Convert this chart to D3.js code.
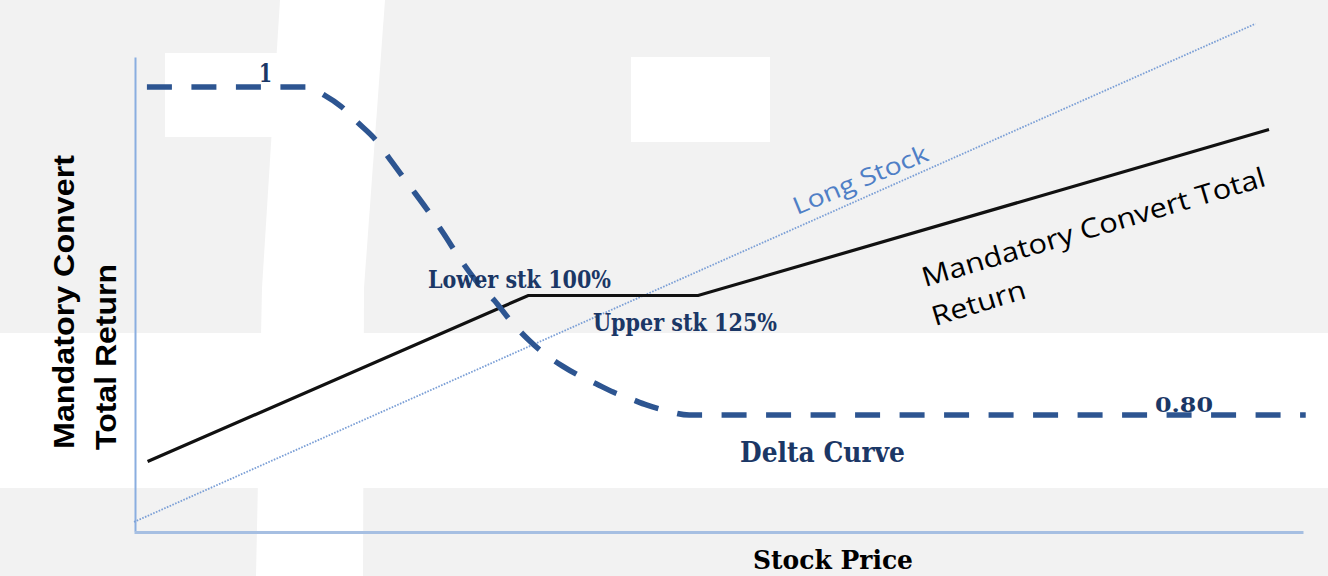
<!DOCTYPE html>
<html>
<head>
<meta charset="utf-8">
<script src="https://cdn.jsdelivr.net/npm/d3@7/dist/d3.min.js"></script>
<style>
  html, body { margin: 0; padding: 0; background: #f2f2f2; }
  svg { display: block; }
</style>
</head>
<body>
<svg id="chart" width="1328" height="576"></svg>
<script>
// ---- data ----
const longStockX = [42, 207];
const longStockY = [42, 207];
const convertX = [44, 100, 125, 209];
const convertY = [62, 117, 117, 172];
const deltaX = [43.9, 67.5, 70, 72.5, 75, 77.5, 80, 82.5, 85, 87.5, 90, 92.5, 95, 97.5, 100, 102.5, 105, 107.5, 110, 112.5, 115, 117.5, 120, 123.7, 214.4];
const deltaY = [1.0, 1.0, 0.995, 0.988, 0.978, 0.968, 0.954, 0.940, 0.926, 0.911, 0.895, 0.881, 0.870, 0.857, 0.846, 0.837, 0.830, 0.824, 0.819, 0.814, 0.810, 0.806, 0.803, 0.800, 0.800];
const deltaLabels = ["1", "0.80"];
const strikeLabels = ["Lower stk 100%", "Upper stk 125%"];
const seriesLabels = ["Long Stock", "Mandatory Convert Total", "Return", "Delta Curve"];
const axisTitles = { x: "Stock Price", y: ["Mandatory Convert", "Total Return"] };

const svg = d3.select("#chart");
const W = 1328, H = 576;

// ---- background (decorative blocks) ----
const bg = svg.append("g");
bg.append("rect").attr("x", 0).attr("y", 0).attr("width", W).attr("height", H).attr("fill", "#f2f2f2");
bg.append("rect").attr("x", 0).attr("y", 333).attr("width", W).attr("height", 155).attr("fill", "#ffffff");
bg.append("polygon").attr("points", "280,0 385,0 364,288 363,576 256,576 262,288").attr("fill", "#ffffff");
bg.append("rect").attr("x", 165).attr("y", 53).attr("width", 142).attr("height", 84).attr("fill", "#ffffff");
bg.append("rect").attr("x", 631).attr("y", 57).attr("width", 139).attr("height", 85).attr("fill", "#ffffff");

// ---- scales ----
const x = d3.scaleLinear().domain([42, 214]).range([134, 1303]);
const y = d3.scaleLinear().domain([39, 196]).range([531, 57]);
const yDelta = d3.scaleLinear().domain([0.8, 1]).range([415, 87]);

// ---- axes ----
const yAxis = svg.append("g").attr("transform", "translate(135,0)")
  .call(d3.axisLeft(y).ticks(0).tickSize(0).tickSizeOuter(0));
yAxis.select(".domain").attr("stroke", "#8aaee0").attr("stroke-width", 2);
const xAxis = svg.append("g").attr("transform", "translate(0,532)")
  .call(d3.axisBottom(x).ticks(0).tickSize(0).tickSizeOuter(0));
xAxis.select(".domain").attr("stroke", "#a6bfe2").attr("stroke-width", 3);

// ---- lines ----
const lineXY = d3.line().x(d => x(d[0])).y(d => y(d[1]));
const longStock = longStockX.map((v, i) => [v, longStockY[i]]);
const convert = convertX.map((v, i) => [v, convertY[i]]);
const delta = deltaX.map((v, i) => [v, deltaY[i]]);

svg.append("path").datum(longStock).attr("d", lineXY)
  .attr("fill", "none").attr("stroke", "#7b9fd6").attr("stroke-width", 1.8)
  .attr("stroke-dasharray", "1.6,1.4");

svg.append("path").datum(convert).attr("d", lineXY)
  .attr("fill", "none").attr("stroke", "#111111").attr("stroke-width", 3.2)
  .attr("stroke-linejoin", "miter");

const deltaLine = d3.line().x(d => x(d[0])).y(d => yDelta(d[1])).curve(d3.curveMonotoneX);
svg.append("path").datum(delta).attr("d", deltaLine)
  .attr("fill", "none").attr("stroke", "#2d5591").attr("stroke-width", 5.5)
  .attr("stroke-dasharray", "25,19.5");

// ---- text ----
const navy = "#1b3766";
const serifBold = "'DejaVu Serif Condensed', 'Liberation Serif', serif";

function txt(str, px, py, opts) {
  const t = svg.append("text").attr("x", px).attr("y", py).text(str)
    .attr("font-family", opts.family).attr("font-size", opts.size)
    .attr("font-weight", opts.weight || "normal").attr("fill", opts.fill || "#000");
  if (opts.len) t.attr("textLength", opts.len).attr("lengthAdjust", "spacingAndGlyphs");
  if (opts.anchor) t.attr("text-anchor", opts.anchor);
  if (opts.rotate !== undefined) t.attr("transform", `rotate(${opts.rotate},${px},${py})`);
  return t;
}

txt(deltaLabels[0], 259, 82, { family: serifBold, size: 26, weight: "bold", fill: navy, len: 13 });
txt(deltaLabels[1], 1155, 412, { family: serifBold, size: 21, weight: "bold", fill: navy, len: 58 });

txt(strikeLabels[0], 428, 288, { family: serifBold, size: 24, weight: "bold", fill: navy, len: 183 });
txt(strikeLabels[1], 593, 331, { family: serifBold, size: 24, weight: "bold", fill: navy, len: 184 });

txt(seriesLabels[3], 740, 462, { family: serifBold, size: 27, weight: "bold", fill: navy, len: 165 });

txt(axisTitles.x, 753, 569, { family: serifBold, size: 26, weight: "bold", fill: "#000", len: 160 });

// Y axis title (rotated)
txt(axisTitles.y[0], 74, 449, { family: "'Liberation Sans', Arial, sans-serif", size: 29, weight: "bold", len: 294, rotate: -90 });
txt(axisTitles.y[1], 116, 450, { family: "'Liberation Sans', Arial, sans-serif", size: 29, weight: "bold", len: 186, rotate: -90 });

// Long Stock label
txt(seriesLabels[0], 797, 215, { family: "'Open Sans', 'Liberation Sans', sans-serif", size: 24, fill: "#4f7fc6", len: 144, rotate: -22.5 });

// Mandatory Convert Total Return label
txt(seriesLabels[1], 925, 287, { family: "'Open Sans', 'Liberation Sans', sans-serif", size: 27, fill: "#000", len: 357, rotate: -16.5 });
txt(seriesLabels[2], 935, 326, { family: "'Open Sans', 'Liberation Sans', sans-serif", size: 27, fill: "#000", len: 97, rotate: -17 });
</script>
</body>
</html>
